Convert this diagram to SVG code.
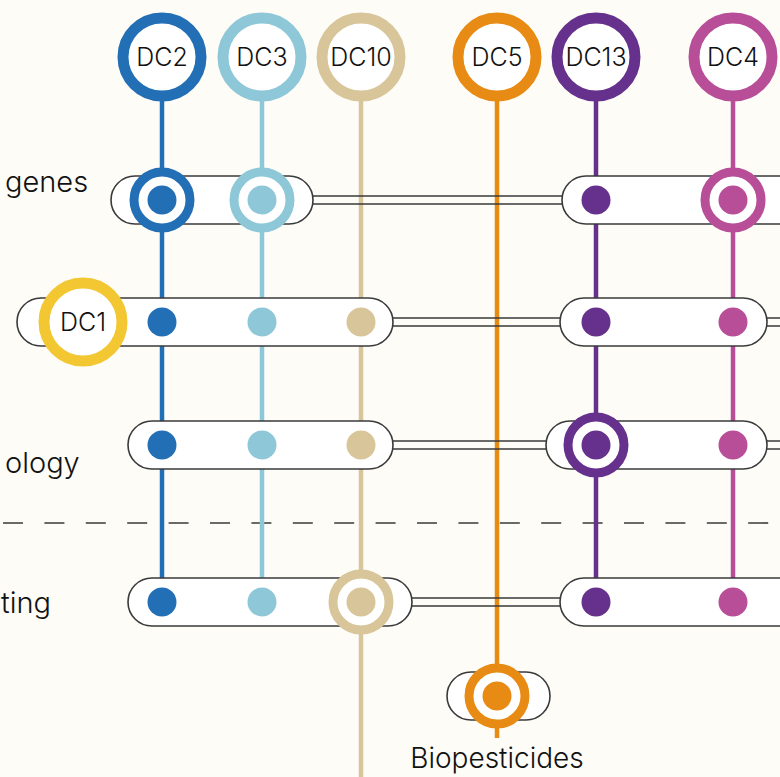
<svg xmlns="http://www.w3.org/2000/svg" width="780" height="777" viewBox="0 0 780 777">
<style>
.bg{fill:#fdfcf7}
.pill{fill:#ffffff;stroke:#3a3a3a;stroke-width:1.6}
.conn{stroke:#3a3a3a;stroke-width:1.6;fill:none}
.top{fill:#ffffff;stroke-width:11}
.ring{fill:#ffffff;stroke-width:9}
.lbl{font-family:Inter,"Liberation Sans",sans-serif;font-size:25px;font-weight:300;fill:#111;text-anchor:middle}
.row{font-family:Inter,"Liberation Sans",sans-serif;font-size:29px;font-weight:300;fill:#111}
.v{stroke-width:4.5;fill:none}
.dc2{stroke:#236fb5}.f2{fill:#236fb5}
.dc3{stroke:#8ec8d8}.f3{fill:#8ec8d8}
.dc10{stroke:#d8c59a}.f10{fill:#d8c59a}
.dc5{stroke:#e88b14}.f5{fill:#e88b14}
.dc13{stroke:#66318c}.f13{fill:#66318c}
.dc4{stroke:#b84e98}.f4{fill:#b84e98}
.dc1{stroke:#f2c731}
</style>
<rect class="bg" x="0" y="0" width="780" height="777"/>

<g id="labels">
<text class="row" x="5" y="192">genes</text>
<text class="row" x="5" y="473">ology</text>
<text class="row" x="1" y="613">ting</text>
<line x1="3" y1="523" x2="780" y2="523" stroke="#3a3a3a" stroke-width="1.6" stroke-dasharray="20 21.4"/>
</g>

<g id="connectors">
<line class="v dc2" x1="162" y1="57" x2="162" y2="602"/>
<line class="v dc3" x1="262" y1="57" x2="262" y2="602"/>
<line class="v dc10" x1="361" y1="57" x2="361" y2="777"/>
<line class="v dc5" x1="497" y1="57" x2="497" y2="738"/>
<line class="v dc13" x1="596" y1="57" x2="596" y2="602"/>
<line class="v dc4" x1="733" y1="57" x2="733" y2="602"/>
<path class="conn" d="M313 196H562M313 204H562"/>
<path class="conn" d="M393 318H560M393 326H560M767 318H781M767 326H781"/>
<path class="conn" d="M393 441H546M393 449H546M767 441H781M767 449H781"/>
<path class="conn" d="M412 598H560M412 606H560"/>
</g>

<g id="row-genes">
<rect class="pill" x="111" y="176" width="202" height="48" rx="24"/>
<rect class="pill" x="562" y="176" width="260" height="48" rx="24"/>
</g>
<g id="row-2">
<rect class="pill" x="17" y="298" width="376" height="48" rx="24"/>
<rect class="pill" x="560" y="298" width="207" height="48" rx="24"/>
</g>
<g id="row-ology">
<rect class="pill" x="128" y="421" width="265" height="48" rx="24"/>
<rect class="pill" x="546" y="421" width="221" height="48" rx="24"/>
</g>
<g id="row-ting">
<rect class="pill" x="128" y="578" width="284" height="48" rx="24"/>
<rect class="pill" x="560" y="578" width="260" height="48" rx="24"/>
</g>
<g id="row-biopesticides">
<rect class="pill" x="447" y="672" width="103" height="48" rx="24"/>
</g>

<g id="stops">
<circle class="ring dc2" cx="162" cy="200" r="28"/><circle class="f2" cx="162" cy="200" r="14.5"/>
<circle class="ring dc3" cx="262" cy="200" r="28"/><circle class="f3" cx="262" cy="200" r="14.5"/>
<circle class="f13" cx="596" cy="200" r="14.5"/>
<circle class="ring dc4" cx="733" cy="200" r="28"/><circle class="f4" cx="733" cy="200" r="14.5"/>

<circle class="f2" cx="162" cy="322" r="14.5"/>
<circle class="f3" cx="262" cy="322" r="14.5"/>
<circle class="f10" cx="361" cy="322" r="14.5"/>
<circle class="f13" cx="596" cy="322" r="14.5"/>
<circle class="f4" cx="733" cy="322" r="14.5"/>

<circle class="f2" cx="162" cy="445" r="14.5"/>
<circle class="f3" cx="262" cy="445" r="14.5"/>
<circle class="f10" cx="361" cy="445" r="14.5"/>
<circle class="ring dc13" cx="596" cy="445" r="28"/><circle class="f13" cx="596" cy="445" r="14.5"/>
<circle class="f4" cx="733" cy="445" r="14.5"/>

<circle class="f2" cx="162" cy="602" r="14.5"/>
<circle class="f3" cx="262" cy="602" r="14.5"/>
<circle class="ring dc10" cx="361" cy="602" r="28"/><circle class="f10" cx="361" cy="602" r="14.5"/>
<circle class="f13" cx="596" cy="602" r="14.5"/>
<circle class="f4" cx="733" cy="602" r="14.5"/>

<circle class="ring dc5" cx="497" cy="696" r="28"/><circle class="f5" cx="497" cy="696" r="14.5"/>
</g>

<g id="node-dc2"><circle class="top dc2" cx="162" cy="57" r="39"/><text class="lbl" x="162" y="66">DC2</text></g>
<g id="node-dc3"><circle class="top dc3" cx="262" cy="57" r="39"/><text class="lbl" x="262" y="66">DC3</text></g>
<g id="node-dc10"><circle class="top dc10" cx="361" cy="57" r="39"/><text class="lbl" x="361" y="66">DC10</text></g>
<g id="node-dc5"><circle class="top dc5" cx="497" cy="57" r="39"/><text class="lbl" x="497" y="66">DC5</text></g>
<g id="node-dc13"><circle class="top dc13" cx="596" cy="57" r="39"/><text class="lbl" x="596" y="66">DC13</text></g>
<g id="node-dc4"><circle class="top dc4" cx="733" cy="57" r="39"/><text class="lbl" x="733" y="66">DC4</text></g>
<g id="node-dc1"><circle class="top dc1" cx="83" cy="322" r="39"/><text class="lbl" x="83" y="331">DC1</text></g>
<g id="node-biopesticides"><text class="lbl" style="font-size:28px" x="497" y="768">Biopesticides</text></g>
</svg>
